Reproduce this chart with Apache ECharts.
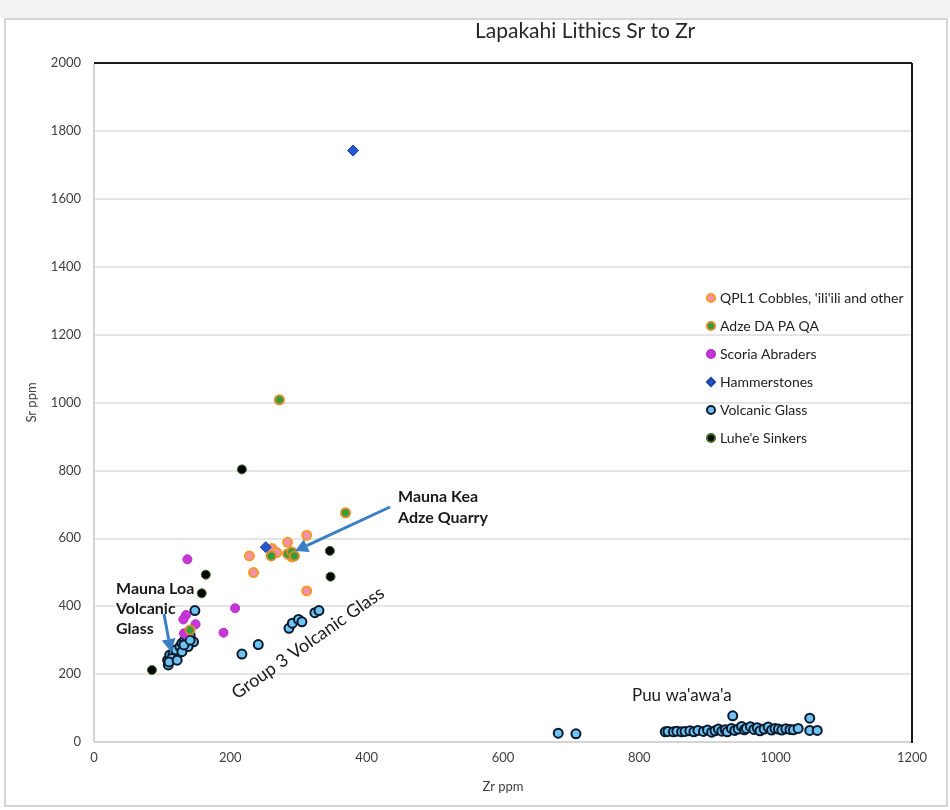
<!DOCTYPE html>
<html>
<head>
<meta charset="utf-8">
<script src="https://cdn.jsdelivr.net/npm/echarts@6/dist/echarts.min.js"></script>
<style>
html,body{margin:0;padding:0;background:#fff;}
#c{width:950px;height:810px;}
</style>
</head>
<body>
<div id="c"></div>
<script>
// ---- Data (Zr ppm, Sr ppm) ----
const xTicks = [0, 200, 400, 600, 800, 1000, 1200];
const yTicks = [0, 200, 400, 600, 800, 1000, 1200, 1400, 1600, 1800, 2000];

const qpl1 = [[228,548],[234,499],[261,570],[268,558],[284,588],[290,545],[312,609],[312,445]];
const adze = [[260,548],[284,554],[290,560],[294,548],[369,675],[272,1008],[141,330]];
const scoria = [[137,538],[207,394],[135,374],[131,361],[149,347],[190,322],[132,320]];
const hammer = [[380,1742],[252,574]];
const glassMaunaLoa = [[109,227],[108,241],[111,256],[116,261],[122,256],[120,271],[126,281],[129,291],
  [133,300],[136,310],[141,315],[139,291],[146,295],[138,281],[129,266],[114,246],[132,286],[141,300],
  [110,236],[122,241],[148,387]];
const glassGroup3 = [[217,259],[241,287],[286,335],[291,350],[300,361],[305,354],[324,381],[330,387]];
const glassPuu = [[681,26],[707,24],[838,30],[842,31],[850,30],[855,32],[862,30],[867,31],[874,33],[880,30],
  [886,34],[894,31],[900,35],[906,29],[911,33],[916,38],[921,32],[926,36],[929,30],[935,40],[937,77],
  [940,34],[945,38],[950,46],[954,36],[957,40],[963,45],[968,37],[973,42],[977,33],[983,38],[989,44],
  [994,35],[999,40],[1004,38],[1009,35],[1015,39],[1021,37],[1026,36],[1033,40],[1050,70],[1050,34],[1061,34]];
const luhe = [[217,803],[164,493],[158,438],[346,563],[347,487],[85,212]];

const glass = glassMaunaLoa.concat(glassGroup3, glassPuu);

const chart = echarts.init(document.getElementById('c'));
const FONT = 'Lato, "Open Sans", sans-serif';

function arrow(x1, y1, x2, y2, color) {
  const ang = Math.atan2(y2 - y1, x2 - x1);
  const L = 13, W = 7;
  const bx = x2 - L * Math.cos(ang), by = y2 - L * Math.sin(ang);
  const px = -Math.sin(ang), py = Math.cos(ang);
  return [
    {type:'line', shape:{x1:x1, y1:y1, x2:bx, y2:by}, style:{stroke:color, lineWidth:3}, z:100},
    {type:'polygon', shape:{points:[[x2,y2],[bx+px*W,by+py*W],[bx-px*W,by-py*W]]}, style:{fill:color}, z:100}
  ];
}

const arrowColor = '#3a7fc6';
const plain = v => String(v);

const option = {
  backgroundColor: '#fff',
  animation: false,
  title: {
    text: 'Lapakahi Lithics Sr to Zr',
    left: 470, top: 16,
    textStyle: {fontFamily: FONT, fontSize: 21, fontWeight: 'normal', color: '#262626'}
  },
  grid: {
    left: 94, right: 38, top: 63, bottom: 68,
    show: false
  },
  legend: {
    orient: 'vertical', left: 701, top: 286,
    itemWidth: 8, itemHeight: 8, itemGap: 14,
    textStyle: {fontFamily: FONT, fontSize: 14, color: '#222'},
    data: ["QPL1 Cobbles, 'ili'ili and other", 'Adze DA PA QA', 'Scoria Abraders', 'Hammerstones', 'Volcanic Glass', "Luhe'e Sinkers"]
  },
  xAxis: {
    type: 'value', min: xTicks[0], max: xTicks[xTicks.length-1], interval: 200,
    name: 'Zr ppm', nameLocation: 'middle', nameGap: 38,
    nameTextStyle: {fontFamily: FONT, fontSize: 13, color: '#404040'},
    axisLine: {show: false, onZero: false},
    axisTick: {show: false},
    axisLabel: {fontFamily: FONT, fontSize: 13, color: '#404040', margin: 9, formatter: plain},
    splitLine: {show: false, showMinLine: false, showMaxLine: false}
  },
  yAxis: {
    type: 'value', min: yTicks[0], max: yTicks[yTicks.length-1], interval: 200,
    name: 'Sr ppm', nameLocation: 'middle', nameGap: 56,
    nameTextStyle: {fontFamily: FONT, fontSize: 13, color: '#404040'},
    axisLine: {show: false, onZero: false},
    axisTick: {show: false},
    axisLabel: {fontFamily: FONT, fontSize: 13, color: '#404040', margin: 13, formatter: plain},
    splitLine: {show: true, showMaxLine: false, showMinLine: false, lineStyle: {color: '#dcdcdc', width: 1.5}}
  },
  series: [
    {name: 'Volcanic Glass', type: 'scatter', data: glass, symbol: 'circle', symbolSize: 9,
      itemStyle: {color: '#6ec3f2', borderColor: '#0b1a2c', borderWidth: 2, opacity: 1}, z: 3},
    {name: "QPL1 Cobbles, 'ili'ili and other", type: 'scatter', data: qpl1, symbol: 'circle', symbolSize: 9,
      itemStyle: {color: '#f58fb0', borderColor: '#f59a23', borderWidth: 2, opacity: 1}, z: 4},
    {name: 'Adze DA PA QA', type: 'scatter', data: adze, symbol: 'circle', symbolSize: 9,
      itemStyle: {color: '#2e9e3a', borderColor: '#d98a2a', borderWidth: 2, opacity: 1}, z: 5},
    {name: 'Scoria Abraders', type: 'scatter', data: scoria, symbol: 'circle', symbolSize: 9,
      itemStyle: {color: '#c636d6', borderColor: '#b82cc8', borderWidth: 1, opacity: 1}, z: 4},
    {name: 'Hammerstones', type: 'scatter', data: hammer, symbol: 'diamond', symbolSize: 11,
      itemStyle: {color: '#2458cc', borderColor: '#1a3fa0', borderWidth: 1, opacity: 1}, z: 6},
    {name: "Luhe'e Sinkers", type: 'scatter', data: luhe, symbol: 'circle', symbolSize: 9,
      itemStyle: {color: '#050505', borderColor: '#3d6a1f', borderWidth: 1, opacity: 1}, z: 4}
  ],
  graphic: [
    {type: 'rect', shape: {x: 0, y: 0, width: 950, height: 18}, style: {fill: '#f2f2f2'}, z: -1, silent: true},
    {type: 'rect', shape: {x: 5, y: 19, width: 942, height: 787}, style: {fill: 'none', stroke: '#c6c6c6', lineWidth: 1.5}, z: 0, silent: true},
    {type: 'text', left: 398, top: 486, style: {text: 'Mauna Kea\nAdze Quarry', font: 'bold 16px ' + FONT, fill: '#1a1a1a', lineHeight: 21}, z: 100},
    {type: 'text', left: 116, top: 579, style: {text: 'Mauna Loa\nVolcanic\nGlass', font: 'bold 16px ' + FONT, fill: '#1a1a1a', lineHeight: 20}, z: 100},
    {type: 'text', x: 308, y: 643, rotation: 35 * Math.PI / 180,
      style: {text: 'Group 3 Volcanic Glass', font: '18px ' + FONT, fill: '#1a1a1a', align: 'center', verticalAlign: 'middle'}, z: 100},
    {type: 'text', left: 632, top: 687, style: {text: "Puu wa'awa'a", font: '17px ' + FONT, fill: '#1a1a1a'}, z: 100}
  ].concat(arrow(390, 507, 295, 551, arrowColor), arrow(164, 614, 171, 652, arrowColor))
};
chart.setOption(option);

// frame of the plot area, placed through the axes' own scales
const pMin = chart.convertToPixel({gridIndex: 0}, [xTicks[0], yTicks[0]]);
const pMax = chart.convertToPixel({gridIndex: 0}, [xTicks[xTicks.length-1], yTicks[yTicks.length-1]]);
chart.setOption({
  graphic: option.graphic.concat([
    {type: 'line', shape: {x1: pMin[0], y1: pMax[1] + 1, x2: pMin[0], y2: pMin[1]}, style: {stroke: '#d4d4d4', lineWidth: 2}, z: 40, silent: true},
    {type: 'line', shape: {x1: pMin[0], y1: pMin[1], x2: pMax[0], y2: pMin[1]}, style: {stroke: '#d4d4d4', lineWidth: 2}, z: 40, silent: true},
    {type: 'line', shape: {x1: pMin[0], y1: pMax[1], x2: pMax[0], y2: pMax[1]}, style: {stroke: '#1a1a1a', lineWidth: 2}, z: 50, silent: true},
    {type: 'line', shape: {x1: pMax[0], y1: pMax[1], x2: pMax[0], y2: pMin[1] + 1}, style: {stroke: '#1a1a1a', lineWidth: 2}, z: 50, silent: true}
  ])
});
</script>
</body>
</html>
